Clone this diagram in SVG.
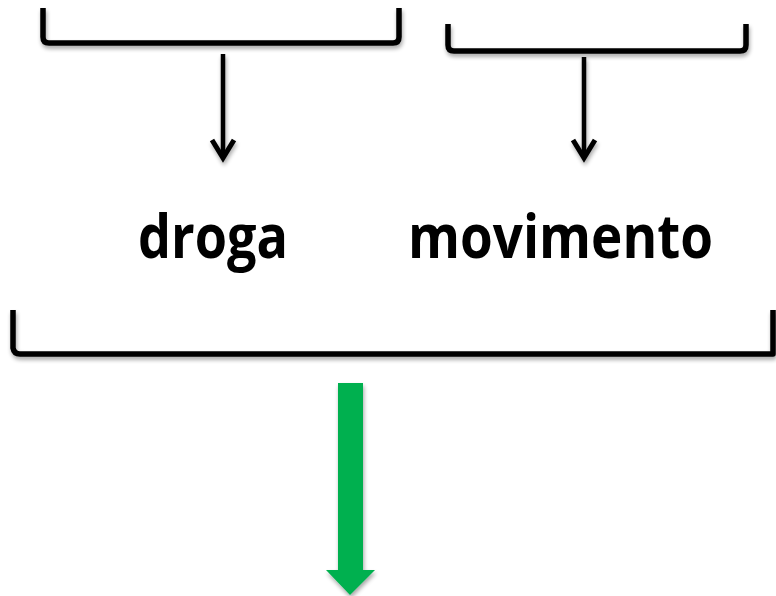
<svg xmlns="http://www.w3.org/2000/svg" width="776" height="596" viewBox="0 0 776 596">
  <style>
    .bracket { fill: none; stroke: #000; stroke-width: 5.5; stroke-linejoin: round; stroke-linecap: butt; }
    .stem { fill: none; stroke: #000; stroke-width: 4.5; }
    .chev { fill: none; stroke: #000; stroke-width: 5; stroke-linejoin: miter; }
    .label { font-family: "Open Sans", "Liberation Sans", sans-serif; font-weight: bold; font-size: 61px; fill: #000; }
  </style>
  <defs>
    <filter id="shadow" x="-5%" y="-20%" width="110%" height="160%">
      <feGaussianBlur in="SourceAlpha" stdDeviation="2"/>
      <feOffset dx="1" dy="3" result="b"/>
      <feComponentTransfer><feFuncA type="linear" slope="0.35"/></feComponentTransfer>
      <feMerge><feMergeNode/><feMergeNode in="SourceGraphic"/></feMerge>
    </filter>
  </defs>
  <rect width="776" height="596" fill="#fff"/>

  <g id="bracket-left" filter="url(#shadow)">
    <path class="bracket" d="M43,8 V37 Q43,43 49,43 H393 Q399,43 399,37 V8"/>
  </g>
  <g id="bracket-right" filter="url(#shadow)">
    <path class="bracket" d="M448,24 V45 Q448,51 454,51 H740 Q746,51 746,45 V24"/>
  </g>
  <g id="bracket-bottom" filter="url(#shadow)">
    <path class="bracket" d="M13,310 V348 Q14,354 20,354 H773 V310"/>
  </g>

  <g id="label-droga">
    <text class="label" x="138" y="258" textLength="150" lengthAdjust="spacingAndGlyphs">droga</text>
  </g>
  <g id="label-movimento">
    <text class="label" x="408" y="258" textLength="305" lengthAdjust="spacingAndGlyphs">movimento</text>
  </g>

  <g id="connectors" filter="url(#shadow)">
    <line class="stem" x1="223" y1="54" x2="223" y2="158"/>
    <polyline class="chev" points="212,140 223,158 234,140"/>
    <line class="stem" x1="584" y1="57" x2="584" y2="158"/>
    <polyline class="chev" points="573,140 584,158 595,140"/>
    <polygon fill="#00B050" points="338,383 363,383 363,570 375,570 350,595 326,570 338,570"/>
  </g>
</svg>
